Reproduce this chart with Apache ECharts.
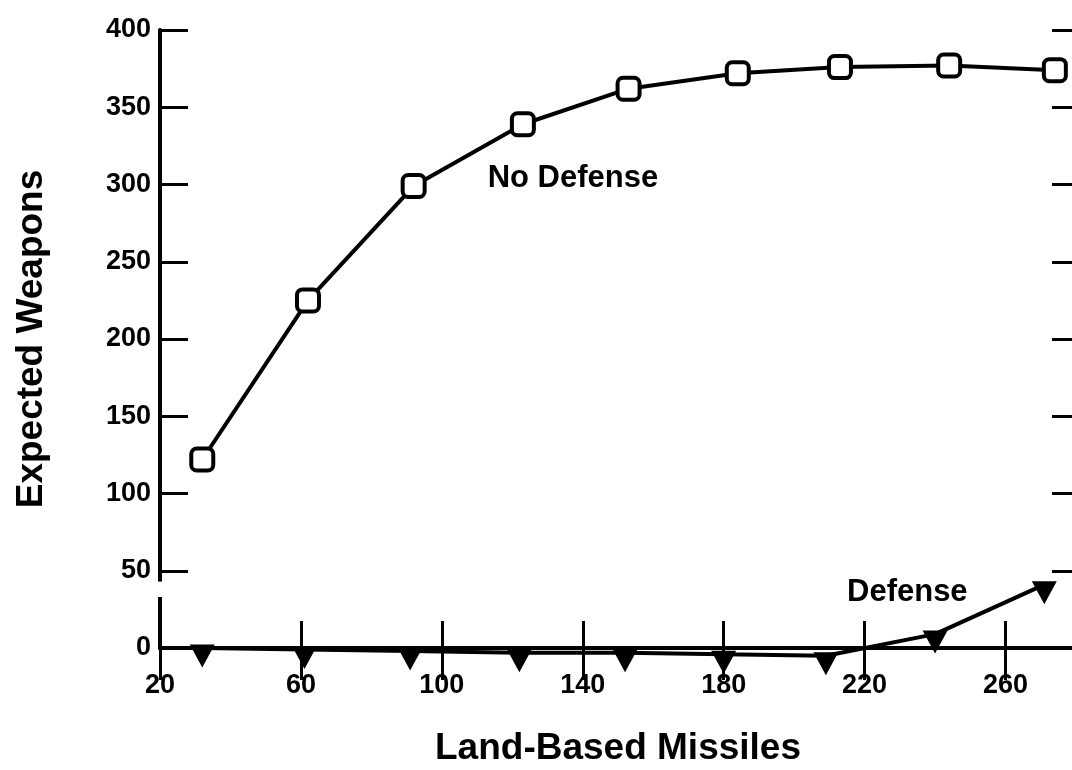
<!DOCTYPE html>
<html>
<head>
<meta charset="utf-8">
<script src="https://cdn.jsdelivr.net/npm/echarts@6/dist/echarts.min.js"></script>
<style>
  html, body { margin: 0; padding: 0; background: #fff; }
  #chart { width: 1072px; height: 770px; }
</style>
</head>
<body>
<div id="chart"></div>
<script>
// values
const noDefenseX = [32, 62, 92, 123, 153, 184, 213, 244, 274];
const noDefenseY = [122, 225, 299, 339, 362, 372, 376, 377, 374];
const defenseX = [32, 61, 91, 122, 152, 180, 209, 240, 271];
const defenseY = [0, -1, -2, -3, -3, -4, -5, 9, 41];

const FONT = '"Liberation Sans", Arial, sans-serif';
const INK = '#000';

const chart = echarts.init(document.getElementById('chart'));

const pairs = (xs, ys) => xs.map((x, i) => [x, ys[i]]);

function getOptions () {
  return {
    animation: false,
    backgroundColor: '#fff',
    grid: {
      left: 160,
      width: 916,
      top: 30,
      bottom: 122,
      outerBoundsMode: 'none',
      containLabel: false
    },
    xAxis: [{
      type: 'value',
      min: 20,
      max: 280,
      interval: 40,
      position: 'bottom',
      name: 'Land-Based Missiles',
      nameLocation: 'middle',
      nameGap: 82,
      nameTextStyle: { fontFamily: FONT, fontWeight: 'bold', fontSize: 37, color: INK },
      splitLine: { show: false },
      axisLine: { lineStyle: { color: INK, width: 4 } },
      axisTick: { inside: true, length: 27, lineStyle: { color: INK, width: 3 } },
      axisLabel: {
        margin: 24,
        fontFamily: FONT, fontWeight: 'bold', fontSize: 27, color: INK,
        formatter: v => (v === 280 ? '' : v)
      }
    }, {
      type: 'value',
      min: 20,
      max: 280,
      interval: 40,
      position: 'top',
      splitLine: { show: false },
      axisLine: { lineStyle: { color: INK, width: 4 } },
      axisTick: { inside: true, length: 32, lineStyle: { color: INK, width: 3 } },
      axisLabel: { show: false }
    }],
    yAxis: [{
      type: 'value',
      min: 0,
      max: 400,
      interval: 50,
      position: 'left',
      name: 'Expected Weapons',
      nameLocation: 'middle',
      nameGap: 110,
      nameTextStyle: { fontFamily: FONT, fontWeight: 'bold', fontSize: 37, color: INK },
      splitLine: { show: false },
      axisLine: { lineStyle: { color: INK, width: 4 } },
      axisTick: { inside: true, length: 28, lineStyle: { color: INK, width: 3 } },
      axisLabel: { margin: 9, fontFamily: FONT, fontWeight: 'bold', fontSize: 27, color: INK }
    }, {
      type: 'value',
      min: 0,
      max: 400,
      interval: 50,
      position: 'right',
      splitLine: { show: false },
      axisLine: { lineStyle: { color: INK, width: 4 } },
      axisTick: { inside: true, length: 24, lineStyle: { color: INK, width: 3 } },
      axisLabel: { show: false }
    }],
    series: [{
      name: 'No Defense',
      type: 'line',
      data: pairs(noDefenseX, noDefenseY),
      symbol: 'roundRect',
      symbolSize: 22,
      lineStyle: { color: INK, width: 4 },
      itemStyle: { color: '#fff', borderColor: INK, borderWidth: 4 },
      z: 5,
      markPoint: {
        symbol: 'circle',
        symbolSize: 0,
        silent: true,
        label: {
          show: true,
          position: 'right',
          distance: 0,
          fontFamily: FONT, fontWeight: 'bold', fontSize: 31, color: INK,
          formatter: '{b}'
        },
        data: [{ name: 'No Defense', coord: [113, 304] }]
      }
    }, {
      name: 'Defense',
      type: 'line',
      clip: false,
      data: pairs(defenseX, defenseY),
      symbol: 'triangle',
      symbolRotate: 180,
      symbolSize: [25, 23],
      symbolOffset: [0, 8],
      lineStyle: { color: INK, width: 4 },
      itemStyle: { color: INK },
      z: 4,
      markPoint: {
        symbol: 'circle',
        symbolSize: 0,
        silent: true,
        label: {
          show: true,
          position: 'right',
          distance: 0,
          fontFamily: FONT, fontWeight: 'bold', fontSize: 31, color: INK,
          formatter: '{b}'
        },
        data: [{ name: 'Defense', coord: [215, 36] }]
      }
    }]
  };
}

chart.setOption(getOptions());

// break in the left axis between 0 and 50
const gapTop = chart.convertToPixel({ yAxisIndex: 0 }, 43);
const gapBottom = chart.convertToPixel({ yAxisIndex: 0 }, 33);
const axisX = chart.convertToPixel({ xAxisIndex: 0 }, 20);
chart.setOption({
  graphic: [{
    type: 'rect',
    shape: { x: axisX - 6, y: gapTop, width: 12, height: gapBottom - gapTop },
    style: { fill: '#fff' },
    z: 100
  }]
});
</script>
</body>
</html>
